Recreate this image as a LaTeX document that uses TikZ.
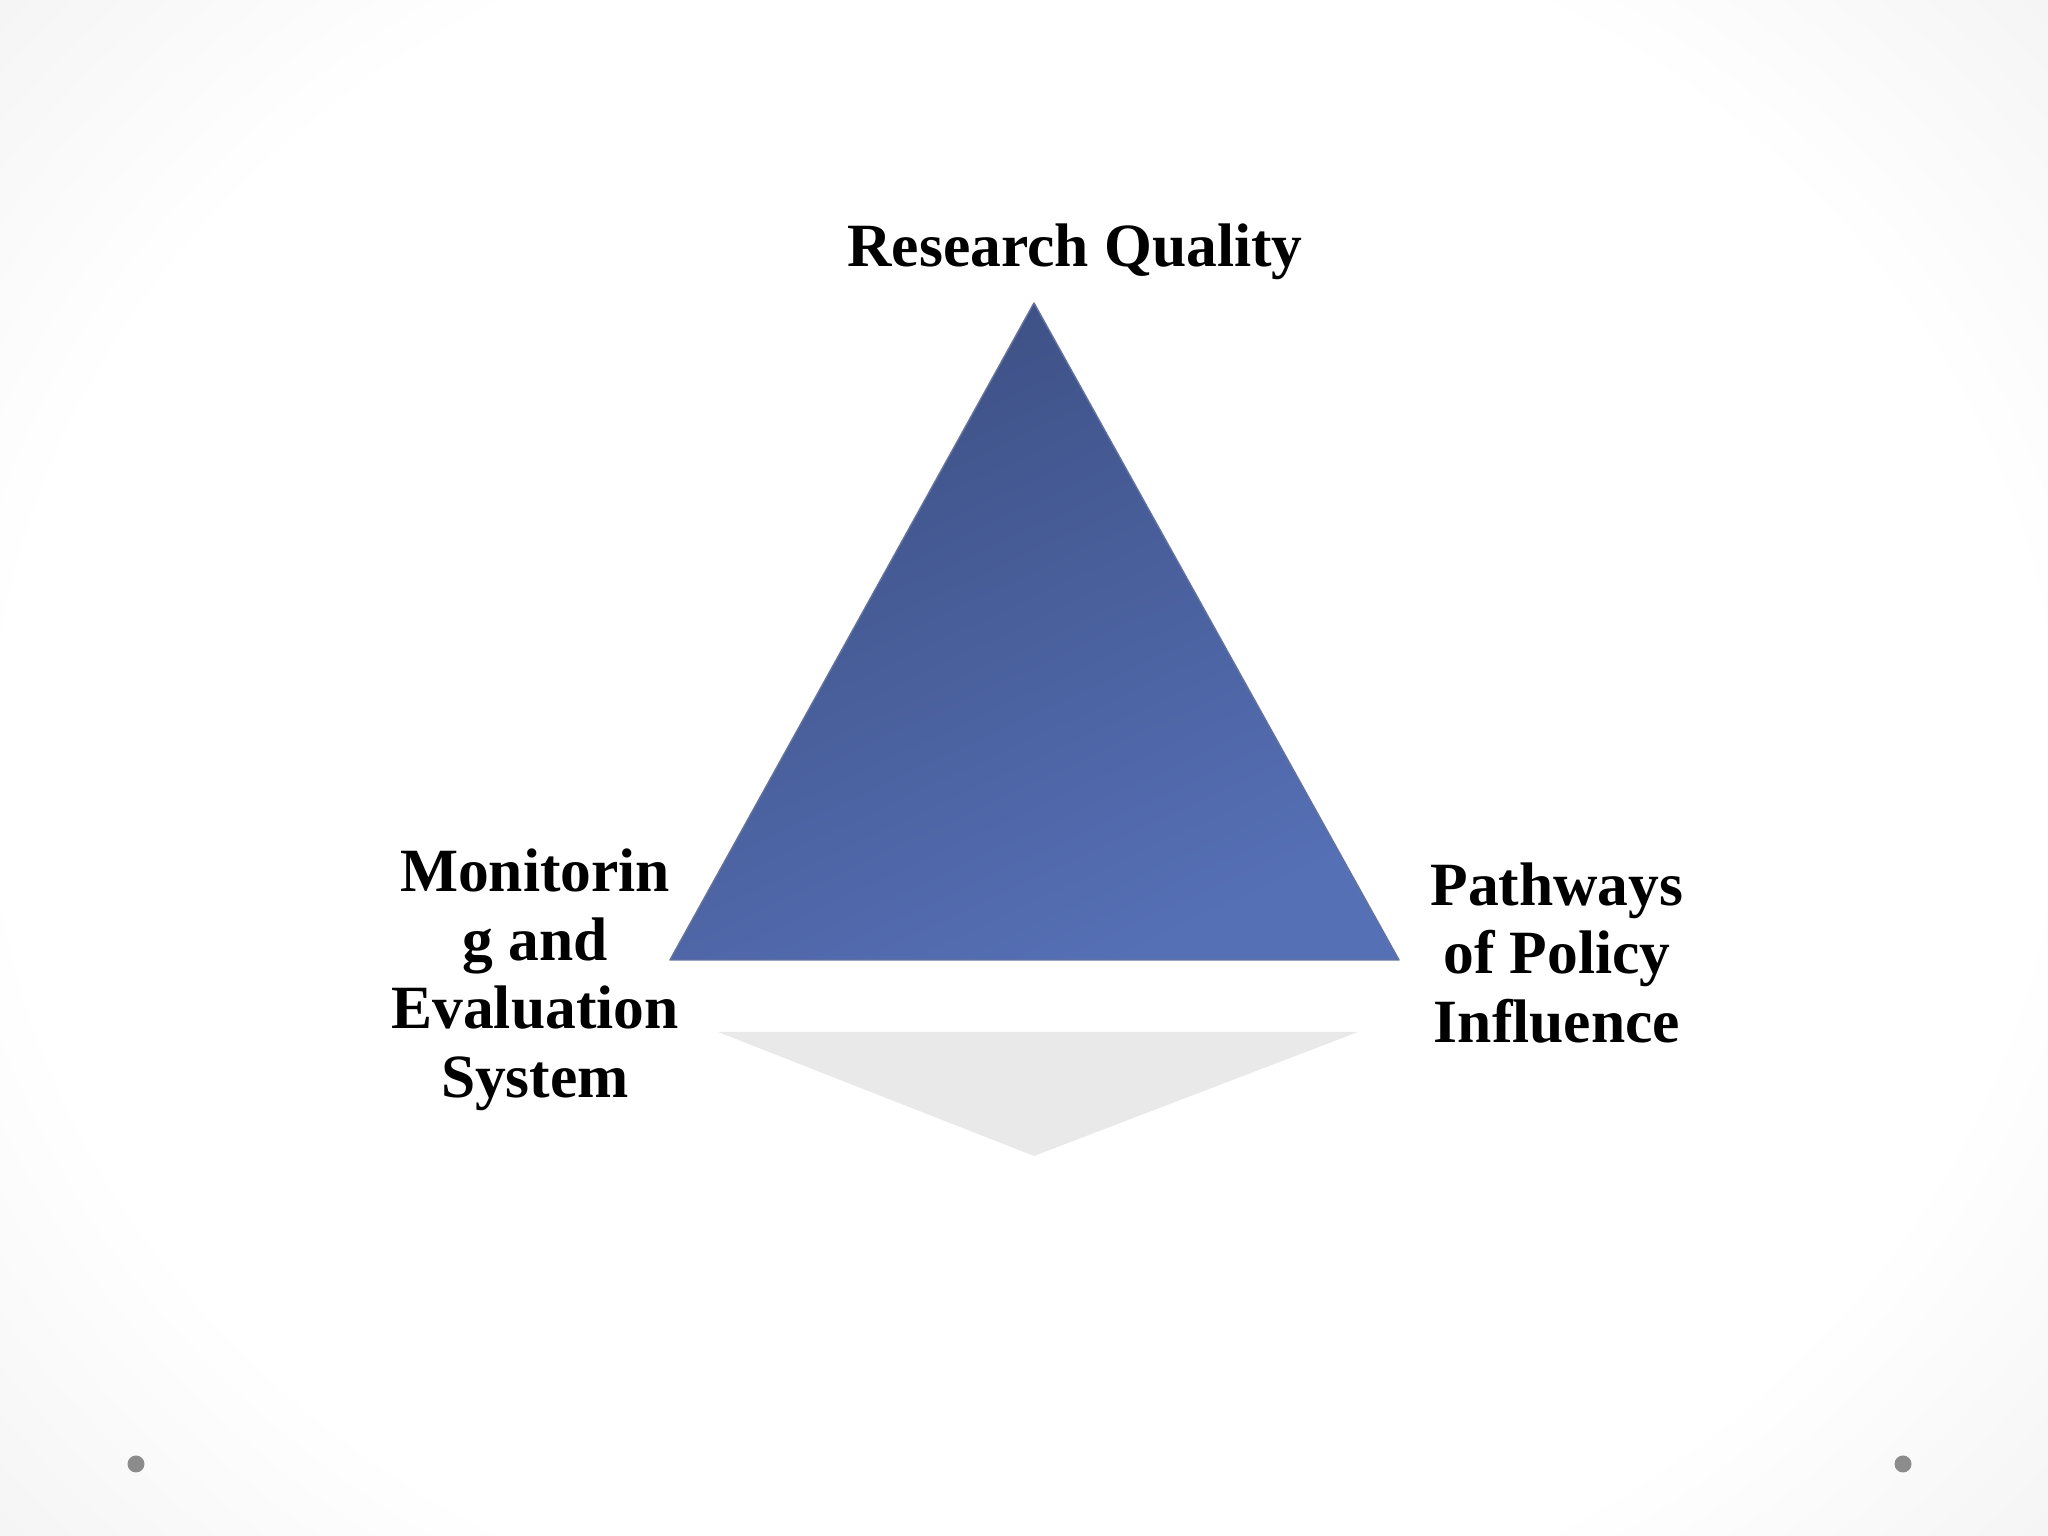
\documentclass[tikz,border=0pt]{standalone}
\usepackage{fontspec}
\setmainfont{Liberation Serif}
\definecolor{triTop}{HTML}{3D5084}
\definecolor{triBot}{HTML}{5670B6}
\pgfdeclareradialshading{bgshade}{\pgfpoint{0cm}{0cm}}{color(0cm)=(white); color(0.8cm)=(white); color(1.2cm)=(gray!12); color(1.6cm)=(gray!22)}
\tikzset{lbl/.style={font=\fontsize{17.5}{19.5}\selectfont\bfseries, align=center, text=black},
 dot/.style={circle, fill=gray!90, inner sep=0pt, minimum size=0.17cm}}
\begin{document}
\begin{tikzpicture}
\useasboundingbox (0,0) rectangle (20.48,15.36);
\shade[shading=bgshade] (-1,-2) rectangle (21.48,17.36);
% shadow
\fill[gray!28, opacity=0.6] (7.18,5.04) -- (13.58,5.04) -- (10.34,3.80) -- cycle;
% triangle
\coordinate (A) at (10.34,12.33);
\coordinate (B) at (6.70,5.76);
\coordinate (C) at (13.99,5.76);
\shade[shading=axis, top color=triTop, bottom color=triBot, shading angle=25, draw=triTop!80, line join=round] (A) -- (B) -- (C) -- cycle;
\node[lbl] (rq) at (10.75,12.84) {Research Quality};
\node[lbl] (me) at (5.35,5.56) {Monitorin\\g and\\Evaluation\\System};
\node[lbl] (pp) at (15.57,5.83) {Pathways\\of Policy\\Influence};
\node[dot] (d1) at (1.36,0.72) {};
\node[dot] (d2) at (19.03,0.72) {};
\end{tikzpicture}
\end{document}
